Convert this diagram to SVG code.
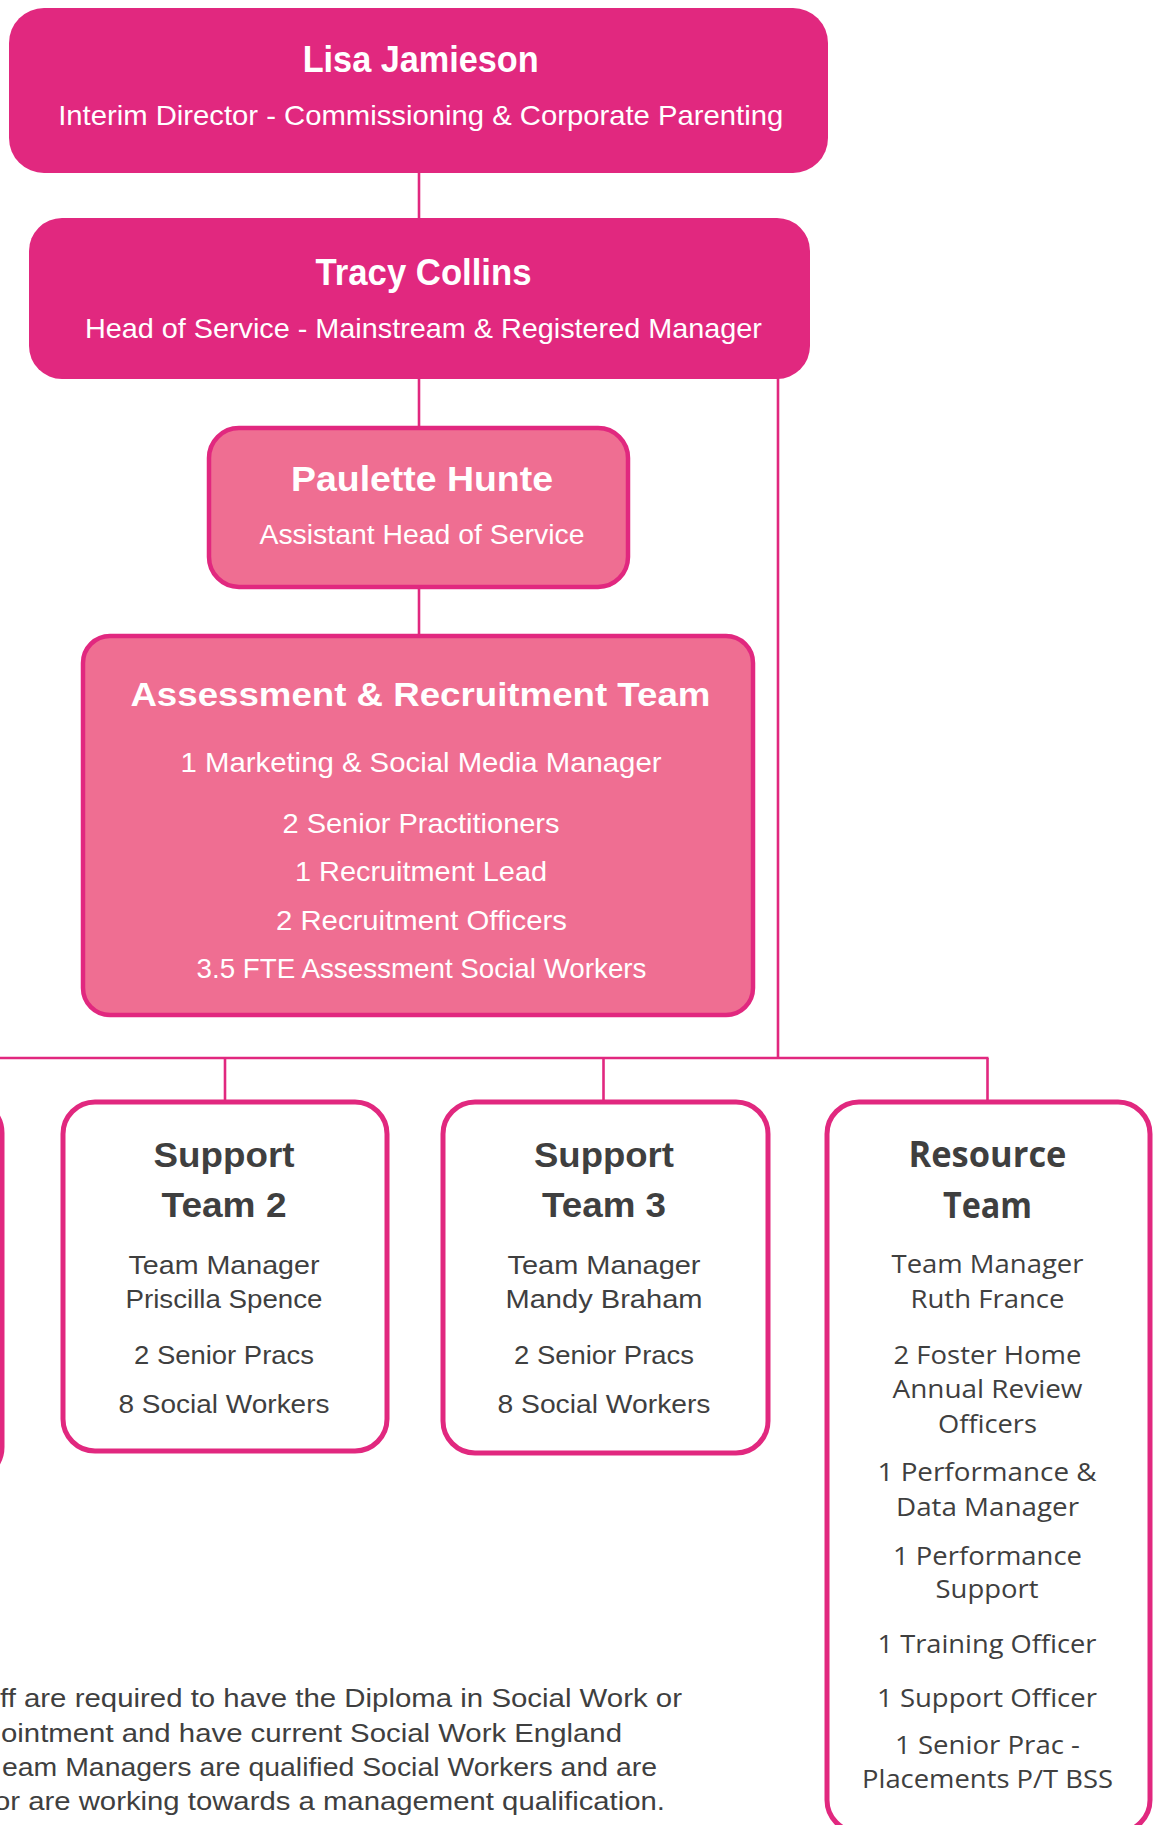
<svg xmlns="http://www.w3.org/2000/svg" width="1158" height="1825" viewBox="0 0 1158 1825">
<style>
.dark{fill:#E1287F;}
.light{fill:#EF6E92;stroke:#E1287F;stroke-width:4.5;}
.white{fill:#FFFFFF;stroke:#E1287F;stroke-width:5;}
.conn{stroke:#E1287F;stroke-width:2.6;fill:none;}
text{font-family:"Liberation Sans",Arial,sans-serif;text-anchor:middle;}
.wt{fill:#FFFFFF;}
.gt{fill:#3F3F3F;}
.b{font-weight:bold;}
.os{font-family:"Open Sans","Noto Sans",sans-serif;}
.ri{font-size:25.5px;}
.foot{text-anchor:start;fill:#3F3F3F;font-size:26px;}
</style>
<g id="connectors">
<line class="conn" x1="419" y1="170" x2="419" y2="220"/>
<line class="conn" x1="419" y1="376" x2="419" y2="428"/>
<line class="conn" x1="419" y1="586" x2="419" y2="636"/>
<line class="conn" x1="778" y1="376" x2="778" y2="1058"/>
<line class="conn" x1="0" y1="1058" x2="988.5" y2="1058"/>
<line class="conn" x1="225" y1="1058" x2="225" y2="1102"/>
<line class="conn" x1="603.5" y1="1058" x2="603.5" y2="1102"/>
<line class="conn" x1="987.5" y1="1058" x2="987.5" y2="1102"/>
</g>
<g id="lisa">
<rect class="dark" x="9" y="8" width="819" height="165" rx="35"/>
<text class="wt b" x="420.7" y="72" font-size="37" textLength="236" lengthAdjust="spacingAndGlyphs">Lisa Jamieson</text>
<text class="wt" x="420.7" y="125" font-size="28" textLength="725" lengthAdjust="spacingAndGlyphs">Interim Director - Commissioning &amp; Corporate Parenting</text>
</g>
<g id="tracy">
<rect class="dark" x="29" y="218" width="781" height="161" rx="33"/>
<text class="wt b" x="423.5" y="285" font-size="37" textLength="216" lengthAdjust="spacingAndGlyphs">Tracy Collins</text>
<text class="wt" x="423.4" y="338" font-size="28" textLength="677" lengthAdjust="spacingAndGlyphs">Head of Service - Mainstream &amp; Registered Manager</text>
</g>
<g id="paulette">
<rect class="light" x="209" y="428" width="419" height="159" rx="30"/>
<text class="wt b" x="422" y="491" font-size="35" textLength="262" lengthAdjust="spacingAndGlyphs">Paulette Hunte</text>
<text class="wt" x="422" y="544" font-size="27" textLength="325" lengthAdjust="spacingAndGlyphs">Assistant Head of Service</text>
</g>
<g id="assessment">
<rect class="light" x="83" y="636" width="670" height="379" rx="27"/>
<text class="wt b" x="420.4" y="706" font-size="34" textLength="580" lengthAdjust="spacingAndGlyphs">Assessment &amp; Recruitment Team</text>
<text class="wt" x="421" y="772" font-size="28" textLength="481" lengthAdjust="spacingAndGlyphs">1 Marketing &amp; Social Media Manager</text>
<text class="wt" x="421" y="833" font-size="28" textLength="277" lengthAdjust="spacingAndGlyphs">2 Senior Practitioners</text>
<text class="wt" x="421" y="881" font-size="28" textLength="252" lengthAdjust="spacingAndGlyphs">1 Recruitment Lead</text>
<text class="wt" x="421.5" y="930" font-size="28" textLength="291" lengthAdjust="spacingAndGlyphs">2 Recruitment Officers</text>
<text class="wt" x="421.5" y="978" font-size="28" textLength="450" lengthAdjust="spacingAndGlyphs">3.5 FTE Assessment Social Workers</text>
</g>
<g id="support-team-1">
<rect class="white" x="-330" y="1100" width="332" height="380" rx="33"/>
</g>
<g id="support-team-2">
<rect class="white" x="63" y="1102" width="324" height="349" rx="32"/>
<text class="gt b" x="224" y="1167" font-size="35" textLength="141" lengthAdjust="spacingAndGlyphs">Support</text>
<text class="gt b" x="224" y="1217" font-size="35" textLength="125" lengthAdjust="spacingAndGlyphs">Team 2</text>
<text class="gt" x="224" y="1274" font-size="26" textLength="191" lengthAdjust="spacingAndGlyphs">Team Manager</text>
<text class="gt" x="224" y="1307.5" font-size="26" textLength="197" lengthAdjust="spacingAndGlyphs">Priscilla Spence</text>
<text class="gt" x="224" y="1364" font-size="26" textLength="180" lengthAdjust="spacingAndGlyphs">2 Senior Pracs</text>
<text class="gt" x="224" y="1413" font-size="26" textLength="211" lengthAdjust="spacingAndGlyphs">8 Social Workers</text>
</g>
<g id="support-team-3">
<rect class="white" x="443" y="1102" width="325" height="351" rx="32"/>
<text class="gt b" x="604" y="1167" font-size="35" textLength="140" lengthAdjust="spacingAndGlyphs">Support</text>
<text class="gt b" x="604" y="1217" font-size="35" textLength="124" lengthAdjust="spacingAndGlyphs">Team 3</text>
<text class="gt" x="604" y="1274" font-size="26" textLength="193" lengthAdjust="spacingAndGlyphs">Team Manager</text>
<text class="gt" x="604" y="1307.5" font-size="26" textLength="197" lengthAdjust="spacingAndGlyphs">Mandy Braham</text>
<text class="gt" x="604" y="1364" font-size="26" textLength="180" lengthAdjust="spacingAndGlyphs">2 Senior Pracs</text>
<text class="gt" x="604" y="1413" font-size="26" textLength="213" lengthAdjust="spacingAndGlyphs">8 Social Workers</text>
</g>
<g id="resource-team">
<rect class="white" x="827" y="1102" width="323" height="730" rx="32"/>
<text class="gt b os" x="987.5" y="1167" font-size="35" textLength="158" lengthAdjust="spacingAndGlyphs">Resource</text>
<text class="gt b os" x="987.5" y="1218" font-size="35" textLength="89" lengthAdjust="spacingAndGlyphs">Team</text>
<text class="gt os ri" x="987.5" y="1273" textLength="192" lengthAdjust="spacingAndGlyphs">Team Manager</text>
<text class="gt os ri" x="987.5" y="1308" textLength="154" lengthAdjust="spacingAndGlyphs">Ruth France</text>
<text class="gt os ri" x="987.5" y="1364" textLength="188" lengthAdjust="spacingAndGlyphs">2 Foster Home</text>
<text class="gt os ri" x="987.5" y="1398" textLength="190" lengthAdjust="spacingAndGlyphs">Annual Review</text>
<text class="gt os ri" x="987.5" y="1433" textLength="99" lengthAdjust="spacingAndGlyphs">Officers</text>
<text class="gt os ri" x="987" y="1481" textLength="219" lengthAdjust="spacingAndGlyphs">1 Performance &amp;</text>
<text class="gt os ri" x="987.5" y="1516" textLength="183" lengthAdjust="spacingAndGlyphs">Data Manager</text>
<text class="gt os ri" x="987.5" y="1565" textLength="189" lengthAdjust="spacingAndGlyphs">1 Performance</text>
<text class="gt os ri" x="987" y="1598" textLength="103" lengthAdjust="spacingAndGlyphs">Support</text>
<text class="gt os ri" x="987" y="1653" textLength="219" lengthAdjust="spacingAndGlyphs">1 Training Officer</text>
<text class="gt os ri" x="987" y="1707" textLength="220" lengthAdjust="spacingAndGlyphs">1 Support Officer</text>
<text class="gt os ri" x="987.5" y="1754" textLength="185" lengthAdjust="spacingAndGlyphs">1 Senior Prac -</text>
<text class="gt os ri" x="987.5" y="1788" textLength="251" lengthAdjust="spacingAndGlyphs">Placements P/T BSS</text>
</g>
<g id="footnote">
<text class="foot" x="0" y="1707" textLength="682" lengthAdjust="spacingAndGlyphs">ff are required to have the Diploma in Social Work or</text>
<text class="foot" x="1" y="1742" textLength="621" lengthAdjust="spacingAndGlyphs">ointment and have current Social Work England</text>
<text class="foot" x="2" y="1776" textLength="655" lengthAdjust="spacingAndGlyphs">eam Managers are qualified Social Workers and are</text>
<text class="foot" x="-6" y="1810" textLength="671" lengthAdjust="spacingAndGlyphs">or are working towards a management qualification.</text>
</g>
</svg>
